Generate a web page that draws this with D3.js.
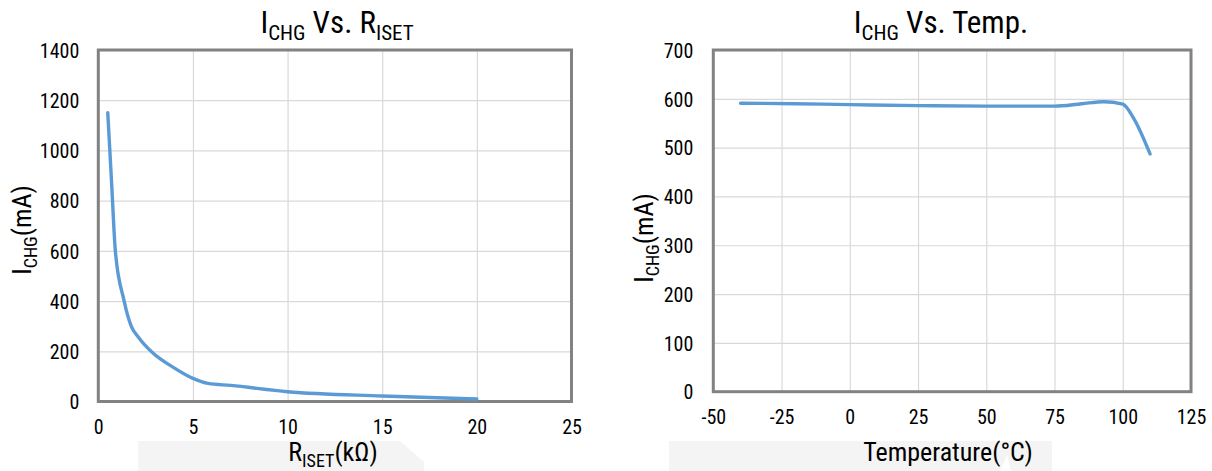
<!DOCTYPE html>
<html>
<head>
<meta charset="utf-8">
<script src="https://cdn.jsdelivr.net/npm/d3@7"></script>
<style>
  html, body { margin: 0; padding: 0; background: #fff; }
  svg { display: block; }
  text { font-family: 'Liberation Sans Narrow', 'Arial Narrow', 'Roboto Condensed', sans-serif; fill: #000; }
</style>
</head>
<body>
<svg id="chart" width="1212" height="471"></svg>
<script>
// ---- Data: left chart (ICHG vs RISET) ----
const risetK = [0.5, 0.7, 0.9, 1.35, 1.75, 2.1, 2.9, 3.9, 5, 5.8, 7, 10, 15, 20];
const ichgVsR = [1150, 875, 600, 405, 298, 258, 192, 139, 92, 72, 64, 39, 22, 10];
const leftXTicks = [0, 5, 10, 15, 20, 25];
const leftYTicks = [0, 200, 400, 600, 800, 1000, 1200, 1400];

// ---- Data: right chart (ICHG vs Temperature) ----
const tempC = [-40, -20, 0, 25, 50, 75, 85, 93, 100, 104, 110];
const ichgVsT = [591, 590, 588, 586, 585, 585, 590, 594, 589, 560, 487];
const rightXTicks = [-50, -25, 0, 25, 50, 75, 100, 125];
const rightYTicks = [0, 100, 200, 300, 400, 500, 600, 700];

const svg = d3.select("#chart");
const LINE = "#5b9bd5", GRID = "#d9d9d9", FRAME = "#828282";

// faint background bands under the x-axis titles (from the source image)
svg.append("polygon").attr("points", "138,441 400,441 424,462 424,471 138,471").attr("fill", "#f4f4f4");
svg.append("polygon").attr("points", "669,441 1052,441 1052,471 669,471").attr("fill", "#f4f4f4");
svg.append("polygon").attr("points", "1000,471 1007,455 1011,471").attr("fill", "#fff");

function subText(g, parts, size, subSize, shift) {
  let prevSub = false;
  parts.forEach(([s, isSub]) => {
    const t = g.append("tspan").text(s).attr("font-size", isSub ? subSize : size);
    if (isSub && !prevSub) t.attr("dy", shift);
    if (!isSub && prevSub) t.attr("dy", -shift);
    prevSub = isSub;
  });
}

const fmt = d => String(d);

function drawChart(cfg) {
  const x = d3.scaleLinear().domain(cfg.xDomain).range([cfg.left, cfg.right]);
  const y = d3.scaleLinear().domain(cfg.yDomain).range([cfg.bottom, cfg.top]);
  const g = svg.append("g");

  // grid
  g.append("g").attr("transform", `translate(0,${cfg.bottom})`)
    .call(d3.axisBottom(x).tickValues(cfg.xTicks).tickSize(-(cfg.bottom - cfg.top)).tickFormat(""))
    .call(a => a.select(".domain").remove())
    .call(a => a.selectAll("line").attr("stroke", GRID).attr("stroke-width", 1.2));
  g.append("g").attr("transform", `translate(${cfg.left},0)`)
    .call(d3.axisLeft(y).tickValues(cfg.yTicks).tickSize(-(cfg.right - cfg.left)).tickFormat(""))
    .call(a => a.select(".domain").remove())
    .call(a => a.selectAll("line").attr("stroke", GRID).attr("stroke-width", 1.2));

  // frame
  g.append("rect").attr("x", cfg.left).attr("y", cfg.top)
    .attr("width", cfg.right - cfg.left).attr("height", cfg.bottom - cfg.top)
    .attr("fill", "none").attr("stroke", FRAME).attr("stroke-width", 3);

  // tick labels via axes
  g.append("g").attr("transform", `translate(0,${cfg.bottom})`)
    .call(d3.axisBottom(x).tickValues(cfg.xTicks).tickSize(0).tickPadding(0).tickFormat(fmt))
    .call(a => a.select(".domain").remove())
    .call(a => a.selectAll("text").attr("font-size", 20).attr("fill", "#000")
      .attr("dy", null).attr("y", 32));
  g.append("g").attr("transform", `translate(${cfg.left},0)`)
    .call(d3.axisLeft(y).tickValues(cfg.yTicks).tickSize(0).tickPadding(cfg.yPad).tickFormat(fmt))
    .call(a => a.select(".domain").remove())
    .call(a => a.selectAll("text").attr("font-size", 20).attr("fill", "#000").attr("dy", "0.36em"));
  g.selectAll("g").attr("font-family", null);

  // line
  const line = d3.line().x(d => x(d[0])).y(d => y(d[1])).curve(d3.curveMonotoneX);
  g.append("path").datum(d3.zip(cfg.xs, cfg.ys)).attr("d", line)
    .attr("fill", "none").attr("stroke", LINE).attr("stroke-width", 3.4)
    .attr("stroke-linecap", "round").attr("stroke-linejoin", "round");

  // title
  const t = g.append("text").attr("x", cfg.titleX).attr("y", 33).attr("text-anchor", "middle");
  subText(t, cfg.title, 31, 21, 7);

  // x-axis title
  const xt = g.append("text").attr("x", cfg.xTitleX).attr("y", 461).attr("text-anchor", "middle");
  subText(xt, cfg.xTitle, 26, 18, 6);

  // y-axis title
  const yt = g.append("text").attr("text-anchor", "middle")
    .attr("transform", `translate(${cfg.yTitleX},${cfg.yTitleY}) rotate(-90)`);
  subText(yt, [["I", false], ["CHG", true], ["(mA)", false]], 26, 18, 6);
}

drawChart({
  xDomain: [0, 25], yDomain: [0, 1400],
  left: 98.3, right: 571.5, top: 50, bottom: 401.5,
  xTicks: leftXTicks, yTicks: leftYTicks, yPad: 19,
  xs: risetK, ys: ichgVsR,
  titleX: 337, title: [["I", false], ["CHG", true], [" Vs. R", false], ["ISET", true]],
  xTitleX: 333, xTitle: [["R", false], ["ISET", true], ["(kΩ)", false]],
  yTitleX: 31, yTitleY: 230
});

drawChart({
  xDomain: [-50, 125], yDomain: [0, 700],
  left: 713.3, right: 1191, top: 50, bottom: 391.7,
  xTicks: rightXTicks, yTicks: rightYTicks, yPad: 20,
  xs: tempC, ys: ichgVsT,
  titleX: 941, title: [["I", false], ["CHG", true], [" Vs. Temp.", false]],
  xTitleX: 948, xTitle: [["Temperature(°C)", false]],
  yTitleX: 653, yTitleY: 238
});
</script>
</body>
</html>
